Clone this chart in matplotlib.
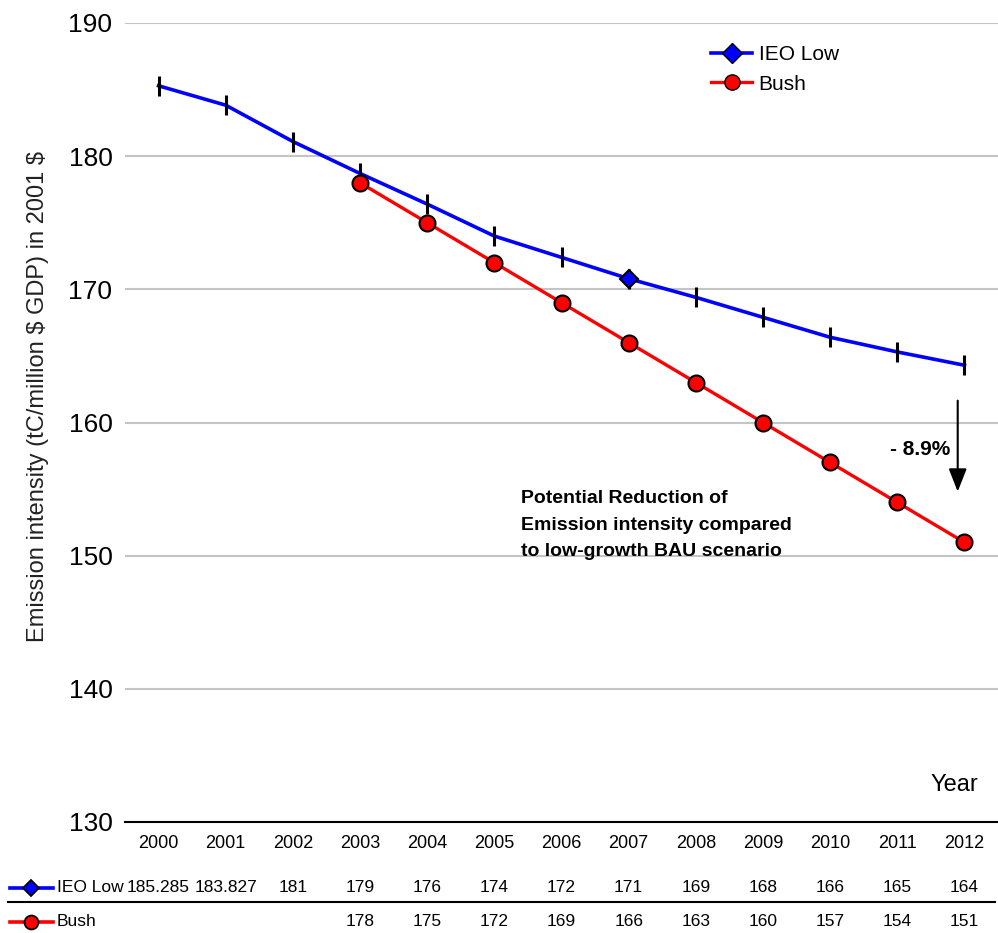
import matplotlib
matplotlib.use("Agg")
import matplotlib.pyplot as plt
from matplotlib.lines import Line2D
from matplotlib.transforms import blended_transform_factory

years = [2000, 2001, 2002, 2003, 2004, 2005, 2006, 2007, 2008, 2009, 2010, 2011, 2012]
ieo_low = [185.285, 183.827, 181.1, 178.7, 176.4, 174.0, 172.4, 170.8, 169.4, 167.9, 166.4, 165.3, 164.3]
bush = [None, None, None, 178, 175, 172, 169, 166, 163, 160, 157, 154, 151]
ieo_text = ["185.285", "183.827"] + [f"{v:.0f}" for v in ieo_low[2:]]
bush_text = ["" if v is None else f"{v:.0f}" for v in bush]

narrow = ["Liberation Sans Narrow", "Liberation Sans", "DejaVu Sans"]
plt.rcParams["font.family"] = ["Liberation Sans", "DejaVu Sans"]

fig = plt.figure(figsize=(9.98, 9.33), dpi=100)
ax = fig.add_axes([125 / 998, 1 - 822 / 933, 873 / 998, 799 / 933])

x = list(range(len(years)))
ax.plot(x, ieo_low, color="#0000ff", lw=2.6, marker="|", ms=14, mew=2.2,
        mec="black", zorder=3)
ax.plot([7], [ieo_low[7]], ls="none", marker="D", ms=9, mfc="#0000ff", mec="black",
        mew=1.5, zorder=4)
bx = [i for i, v in zip(x, bush) if v is not None]
by = [v for v in bush if v is not None]
ax.plot(bx, by, color="#ff0000", lw=2.4, marker="o", ms=11.5, mfc="#ff0000",
        mec="black", mew=1.5, zorder=4)

ax.set_xlim(-0.5, 12.5)
ax.set_ylim(130, 190)
ax.set_yticks([130, 140, 150, 160, 170, 180, 190])
ax.tick_params(axis="y", length=0, labelsize=19, pad=9)
ax.set_xticks(x)
ax.set_xticklabels([str(y) for y in years], family=narrow, fontsize=13)
ax.tick_params(axis="x", length=0, pad=9)
ax.grid(axis="y", color="#c4c4c4", lw=1.5)
ax.set_axisbelow(True)
for s in ["left", "right", "top"]:
    ax.spines[s].set_visible(False)
ax.spines["bottom"].set_linewidth(1.5)

ax.set_ylabel("Emission intensity (tC/million \\$ GDP) in 2001 \\$", family=narrow,
              fontsize=17, color="#222222")
ax.yaxis.set_label_coords(-0.087, 0.532)
fig.text(978 / 998, 1 - 785 / 933, "Year", ha="right", va="center", fontsize=17)

# legend
handles = [Line2D([], [], color="#0000ff", lw=2.6, marker="D", ms=10, mfc="#0000ff", mec="black"),
           Line2D([], [], color="#ff0000", lw=2.4, marker="o", ms=11, mfc="#ff0000", mec="black")]
ax.legend(handles, ["IEO Low", "Bush"], loc="upper left", bbox_to_anchor=(0.671, 0.972),
          frameon=False, fontsize=15, handlelength=2.0, labelspacing=0.5,
          handletextpad=0.3, borderpad=0, borderaxespad=0)

# annotation of the gap in 2012
ax.annotate("", xy=(11.9, 154.6), xytext=(11.9, 161.85),
            arrowprops=dict(arrowstyle="-|>,head_width=0.55,head_length=1.4",
                            color="black", lw=1.5))
ax.text(11.79, 158.0, "- 8.9%", ha="right", va="center", fontsize=15,
        fontweight="bold", family=narrow)
ax.text(5.4, 152.3, "Potential Reduction of\nEmission intensity compared\nto low-growth BAU scenario",
        ha="left", va="center", fontsize=14, fontweight="bold", family=narrow,
        linespacing=1.75)

# data table under the chart
tr = blended_transform_factory(ax.transData, fig.transFigure)
row_y = [1 - 888 / 933, 1 - 922 / 933]
for xi, a, b in zip(x, ieo_text, bush_text):
    fig.text(xi, row_y[0], a, transform=tr, ha="center", va="center", fontsize=12.5, family=narrow)
    fig.text(xi, row_y[1], b, transform=tr, ha="center", va="center", fontsize=12.5, family=narrow)
fig.add_artist(Line2D([8 / 998, 995 / 998], [1 - 902 / 933] * 2, color="black", lw=1.5))
keys = [("IEO Low", "#0000ff", "D", 8), ("Bush", "#ff0000", "o", 10)]
for ry, (name, col, mk, ms) in zip(row_y, keys):
    fig.add_artist(Line2D([10 / 998, 53 / 998], [ry, ry], color=col, lw=2.6))
    fig.add_artist(Line2D([31.5 / 998], [ry], ls="none", marker=mk, ms=ms, mfc=col, mec="black", mew=1.3))
    fig.text(57 / 998, ry, name, ha="left", va="center", fontsize=12.5, family=narrow)

fig.savefig("out.png", dpi=100)
